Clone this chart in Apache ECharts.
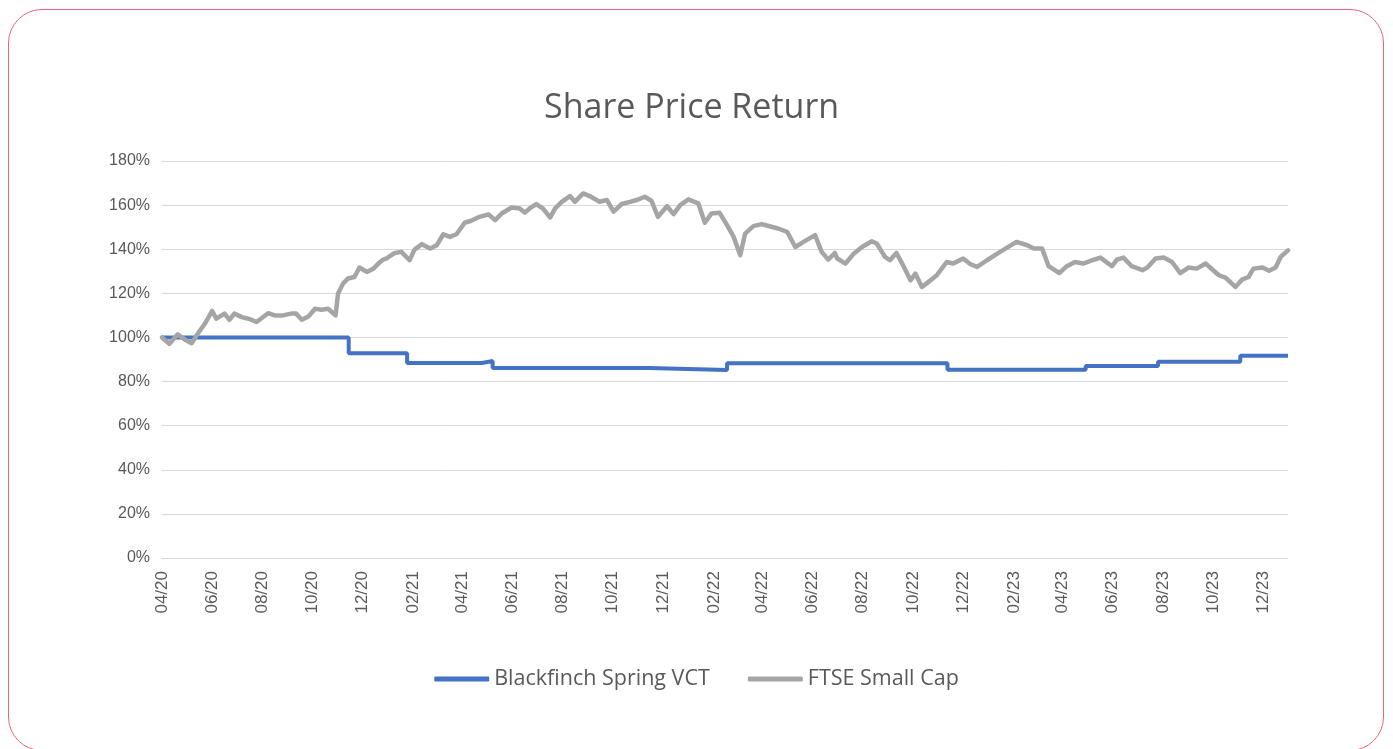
<!DOCTYPE html>
<html>
<head>
<meta charset="utf-8">
<title>Share Price Return</title>
<script src="https://cdn.jsdelivr.net/npm/echarts@6/dist/echarts.min.js"></script>
<style>
    html, body {margin: 0; padding: 0; background: #fff;}
    .frame {
        position: absolute;
        left: 8px;
        top: 9px;
        width: 1376px;
        height: 742px;
        border: 1px solid #e9647d;
        border-radius: 34px;
        box-sizing: border-box;
    }
    #chart {position: absolute; left: 0; top: 0; width: 1393px; height: 749px;}
</style>
</head>
<body>
<div class="frame"></div>
<div id="chart"></div>
<script>
// Blackfinch Spring VCT (step changes, %)
const vctDates = [
    '2020-04-01', '2020-11-14', '2021-01-24', '2021-04-25', '2021-05-08', '2021-11-13',
    '2022-02-17', '2022-11-12', '2023-04-29', '2023-07-26', '2023-11-03', '2023-12-31'
];
const vctValues = [100, 92.8, 88.4, 89.3, 86.1, 85.2, 88.3, 85.3, 87.0, 89.0, 91.7, 91.7];

// FTSE Small Cap (%)
const ftseDates = [
    '2020-04-01', '2020-04-10', '2020-04-20', '2020-04-29', '2020-05-07', '2020-05-13', '2020-05-23', '2020-06-01',
    '2020-06-06', '2020-06-16', '2020-06-22', '2020-06-28', '2020-07-07', '2020-07-15', '2020-07-25', '2020-08-08',
    '2020-08-16', '2020-08-26', '2020-09-05', '2020-09-11', '2020-09-18', '2020-09-26', '2020-10-04', '2020-10-12',
    '2020-10-20', '2020-10-29', '2020-11-01', '2020-11-07', '2020-11-13', '2020-11-21', '2020-11-27', '2020-12-06',
    '2020-12-14', '2020-12-20', '2020-12-26', '2020-12-30', '2021-01-09', '2021-01-17', '2021-01-27', '2021-02-02',
    '2021-02-11', '2021-02-21', '2021-03-01', '2021-03-09', '2021-03-17', '2021-03-25', '2021-04-04', '2021-04-12',
    '2021-04-22', '2021-05-03', '2021-05-11', '2021-05-19', '2021-05-31', '2021-06-10', '2021-06-16', '2021-06-22',
    '2021-06-30', '2021-07-08', '2021-07-17', '2021-07-23', '2021-07-31', '2021-08-10', '2021-08-16', '2021-08-26',
    '2021-09-03', '2021-09-15', '2021-09-24', '2021-10-02', '2021-10-12', '2021-10-22', '2021-10-30', '2021-11-09',
    '2021-11-17', '2021-11-25', '2021-12-06', '2021-12-14', '2021-12-22', '2022-01-01', '2022-01-13', '2022-01-21',
    '2022-01-29', '2022-02-08', '2022-02-17', '2022-02-25', '2022-03-05', '2022-03-11', '2022-03-21', '2022-03-31',
    '2022-04-12', '2022-04-20', '2022-05-01', '2022-05-11', '2022-05-21', '2022-06-04', '2022-06-12', '2022-06-20',
    '2022-06-28', '2022-07-01', '2022-07-11', '2022-07-21', '2022-07-31', '2022-08-12', '2022-08-18', '2022-08-28',
    '2022-09-03', '2022-09-11', '2022-09-19', '2022-09-28', '2022-10-04', '2022-10-12', '2022-10-20', '2022-10-30',
    '2022-11-11', '2022-11-19', '2022-12-01', '2022-12-10', '2022-12-18', '2022-12-30', '2023-01-15', '2023-02-04',
    '2023-02-17', '2023-02-25', '2023-03-07', '2023-03-15', '2023-03-28', '2023-04-06', '2023-04-16', '2023-04-26',
    '2023-05-07', '2023-05-17', '2023-05-31', '2023-06-06', '2023-06-14', '2023-06-24', '2023-07-07', '2023-07-13',
    '2023-07-23', '2023-08-02', '2023-08-12', '2023-08-22', '2023-09-01', '2023-09-11', '2023-09-22', '2023-09-30',
    '2023-10-08', '2023-10-16', '2023-10-28', '2023-11-05', '2023-11-13', '2023-11-19', '2023-11-30', '2023-12-08',
    '2023-12-16', '2023-12-22', '2023-12-31'
];
const ftseValues = [
    100, 97.1, 101.4, 99, 97.4, 100.9, 106.2, 112,
    108.5, 110.8, 108, 110.8, 109.2, 108.5, 107, 111,
    110, 110, 110.8, 110.8, 108, 109.5, 113, 112.6,
    113, 110, 119.8, 124.4, 126.7, 127.4, 131.7, 129.7,
    131.2, 133.5, 135.3, 135.8, 138.3, 138.8, 135, 139.8,
    142.3, 140.3, 141.8, 146.8, 145.6, 146.8, 152, 152.9,
    154.7, 155.8, 153.2, 156.2, 158.9, 158.5, 156.7, 158.5,
    160.5, 158.5, 154.4, 158.5, 161.5, 164.1, 161.5, 165.3,
    164.1, 161.5, 162.3, 157, 160.5, 161.5, 162.3, 163.8,
    162, 154.7, 159.5, 155.9, 160, 162.6, 160.8, 152,
    156.2, 156.5, 150.9, 145.6, 137.3, 147.1, 150.5, 151.4,
    150.2, 149.4, 147.9, 141, 143.3, 146.4, 138.8, 135.3,
    138.3, 135.8, 133.5, 138, 141, 143.6, 142.6, 136.5,
    135, 138.3, 132.7, 125.9, 128.9, 122.9, 125.2, 128.2,
    134.2, 133.5, 135.8, 133.2, 132, 135, 138.8, 143.3,
    141.8, 140.3, 140.3, 132.3, 129.2, 132.3, 134.2, 133.5,
    135, 136.2, 132.3, 135.3, 136.2, 132.3, 130.5, 131.7,
    135.8, 136.2, 134.2, 129.2, 131.7, 131.2, 133.5, 130.8,
    128.2, 127.1, 122.9, 126.2, 127.4, 131.2, 131.7, 130.2,
    131.7, 136.5, 139.5
];

// x axis tick months and their labels
const tickDates = [
    '2020-04-01', '2020-06-01', '2020-08-01', '2020-10-01', '2020-12-01', '2021-02-01',
    '2021-04-01', '2021-06-01', '2021-08-01', '2021-10-01', '2021-12-01', '2022-02-01',
    '2022-04-01', '2022-06-01', '2022-08-01', '2022-10-01', '2022-12-01', '2023-02-01',
    '2023-04-01', '2023-06-01', '2023-08-01', '2023-10-01', '2023-12-01'
];
const tickLabels = [
    '04/20', '06/20', '08/20', '10/20', '12/20', '02/21',
    '04/21', '06/21', '08/21', '10/21', '12/21', '02/22',
    '04/22', '06/22', '08/22', '10/22', '12/22', '02/23',
    '04/23', '06/23', '08/23', '10/23', '12/23'
];

const toTime = d => new Date(d + 'T00:00:00Z').getTime();
const tickTimes = tickDates.map(toTime);

const textColor = '#595959';
const gridColor = '#d9d9d9';

const options = {
    animation: false,
    title: {
        text: 'Share Price Return',
        left: 539,
        top: 86,
        textStyle: {
            fontFamily: 'Open Sans',
            fontSize: 34,
            fontWeight: 'normal',
            color: textColor
        }
    },
    legend: {
        left: 'center',
        top: 663,
        icon: 'roundRect',
        itemWidth: 55,
        itemHeight: 5,
        itemGap: 38,
        textStyle: {
            fontFamily: 'Open Sans',
            fontSize: 21.5,
            color: textColor
        },
        data: ['Blackfinch Spring VCT', 'FTSE Small Cap']
    },
    grid: {
        left: 162,
        right: 105,
        top: 161,
        bottom: 191
    },
    xAxis: {
        type: 'value',
        min: toTime('2020-04-01'),
        max: toTime('2023-12-31'),
        axisLine: {show: true, lineStyle: {color: gridColor, width: 1}},
        axisTick: {show: false},
        splitLine: {show: false},
        axisLabel: {
            customValues: tickTimes,
            rotate: 90,
            margin: 13,
            fontFamily: 'Liberation Sans',
            fontSize: 17,
            color: textColor,
            formatter: value => {
                const i = tickTimes.indexOf(value);
                return i >= 0 ? tickLabels[i] : '';
            }
        }
    },
    yAxis: {
        type: 'value',
        min: 0,
        max: 180,
        interval: 20,
        axisLine: {show: false},
        axisTick: {show: false},
        splitLine: {lineStyle: {color: gridColor, width: 1}},
        axisLabel: {
            formatter: '{value}%',
            margin: 12,
            fontFamily: 'Liberation Sans',
            fontSize: 16,
            color: textColor
        }
    },
    series: [
        {
            name: 'Blackfinch Spring VCT',
            type: 'line',
            step: 'end',
            symbol: 'none',
            color: '#4472c4',
            lineStyle: {width: 4, color: '#4472c4'},
            data: vctDates.map((d, i) => [toTime(d), vctValues[i]])
        },
        {
            name: 'FTSE Small Cap',
            type: 'line',
            symbol: 'none',
            color: '#a5a5a5',
            lineStyle: {width: 4.5, color: '#a5a5a5', join: 'round', cap: 'round'},
            data: ftseDates.map((d, i) => [toTime(d), ftseValues[i]])
        }
    ]
};

const chart = echarts.init(document.getElementById('chart'));
chart.setOption(options);
</script>
</body>
</html>
